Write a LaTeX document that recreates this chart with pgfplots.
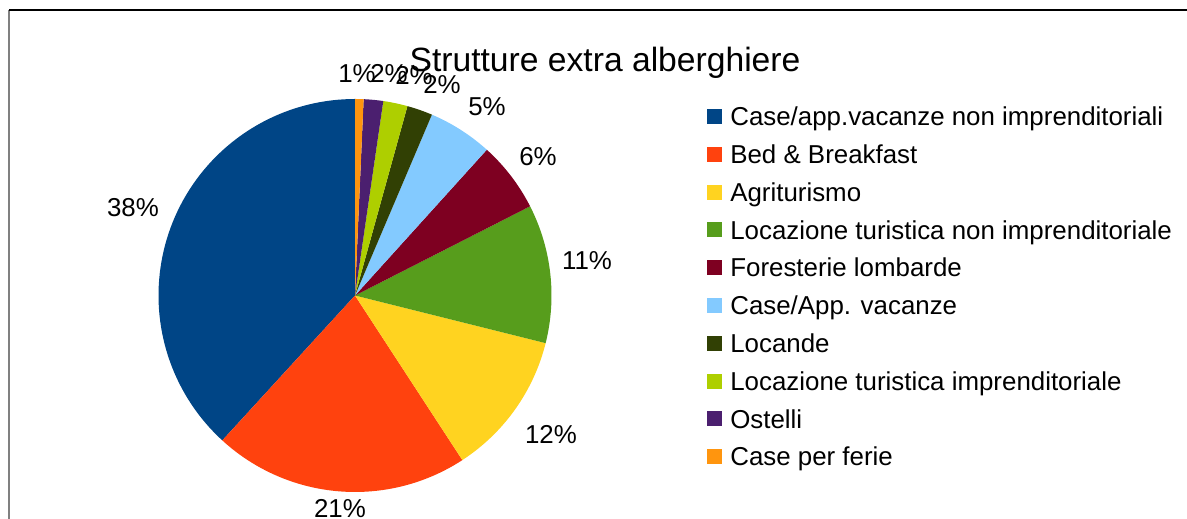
\documentclass[border=0pt]{standalone}
\usepackage{pgfplots}
\pgfplotsset{compat=1.18}
\usepackage{fontspec}
\setmainfont{Liberation Sans}

\definecolor{c1}{HTML}{004586}
\definecolor{c2}{HTML}{FF420E}
\definecolor{c3}{HTML}{FFD320}
\definecolor{c4}{HTML}{579D1C}
\definecolor{c5}{HTML}{7E0021}
\definecolor{c6}{HTML}{83CAFF}
\definecolor{c7}{HTML}{314004}
\definecolor{c8}{HTML}{AECF00}
\definecolor{c9}{HTML}{4B1F6F}
\definecolor{c10}{HTML}{FF950E}

% one wedge per category: value (percent), colour, legend text
\def\cum{0}
\newcommand\slice[3]{%
  \pgfmathsetmacro\aStart{90+3.6*\cum}%
  \pgfmathsetmacro\cumNew{\cum+#1}%
  \pgfmathsetmacro\aEnd{90+3.6*\cumNew}%
  \xdef\cum{\cumNew}%
  \edef\tmp{\noexpand\addplot[fill=#2, draw=none, domain=\aStart:\aEnd, samples=80]
    ({355+196.5*cos(x)},{223.5+196.5*sin(x)}) -- (355,223.5) -- cycle;}%
  \tmp
  \addlegendentry{#3}%
}

\begin{document}
\begin{tikzpicture}
\begin{axis}[
    name=ax,
    scale only axis,
    width=458.66pt, height=200.54pt,
    xmin=0, xmax=1187, ymin=0, ymax=519,
    hide axis,
    clip=false,
    font=\fontsize{10}{12}\selectfont,
    legend cell align=left,
    legend image code/.code={\fill[#1] (0pt,-2.9pt) rectangle (5.8pt,2.9pt);},
    legend style={draw=none, fill=none, at={(axis cs:706,418)}, anchor=north west,
        inner sep=0pt, row sep=3.0pt, column sep=3.4pt,
        font=\fontsize{10}{12}\selectfont,
        nodes={inner sep=0pt, anchor=west, text height=9.4pt, text depth=2.2pt}},
    every node/.append style={font=\fontsize{10}{12}\selectfont},
]
\slice{38.2}{c1}{Case/app.vacanze non imprenditoriali}
\slice{21.0}{c2}{Bed \& Breakfast}
\slice{11.9}{c3}{Agriturismo}
\slice{11.4}{c4}{Locazione turistica non imprenditoriale}
\slice{5.8}{c5}{Foresterie lombarde}
\slice{5.3}{c6}{Case/App. vacanze}
\slice{2.1}{c7}{Locande}
\slice{2.0}{c8}{Locazione turistica imprenditoriale}
\slice{1.6}{c9}{Ostelli}
\slice{0.7}{c10}{Case per ferie}

\begin{scope}[every node/.style={anchor=base, yshift=-3.58pt, inner sep=0pt}]
\node at (133,312) {38\%};
\node at (340,11) {21\%};
\node at (551,85) {12\%};
\node at (587,259) {11\%};
\node at (538,363) {6\%};
\node at (487,413) {5\%};
\node at (442,435) {2\%};
\node at (414,444) {2\%};
\node at (389,446) {2\%};
\node at (357,446) {1\%};
\end{scope}
\node[anchor=base, inner sep=0pt, font=\fontsize{13}{15.6}\selectfont] at (605,447) {Strutture extra alberghiere};

\draw[gray, line width=0.8pt] (9,-20) -- (9,509);
\draw[black, line width=0.8pt] (9,509) -- (1200,509);
\end{axis}
\pgfresetboundingbox
\useasboundingbox (ax.south west) rectangle (ax.north east);
\end{tikzpicture}
\end{document}
